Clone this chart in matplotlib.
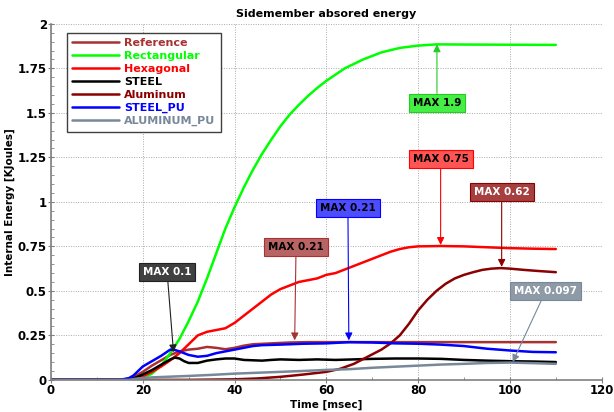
import matplotlib
matplotlib.use("Agg")
import matplotlib.pyplot as plt
from matplotlib.ticker import MultipleLocator, FuncFormatter

# ---------------- data ----------------
t_ref = [0, 15, 17, 18, 20, 22, 24, 26, 28, 30, 32, 34, 36, 38, 40, 42, 44, 48, 52, 56, 60, 70, 80, 90, 100, 110]
e_ref = [0, 0, 0.005, 0.015, 0.045, 0.08, 0.11, 0.14, 0.16, 0.17, 0.175, 0.185, 0.18, 0.172, 0.18, 0.192, 0.2, 0.205, 0.21, 0.212, 0.212, 0.212, 0.212, 0.212, 0.212, 0.212]

t_rect = [0, 16, 18, 20, 22, 24, 26, 28, 30, 32, 34, 36, 38, 40, 42, 44, 46, 48, 50, 52, 54, 56, 58, 60, 64, 68, 72, 76, 80, 84, 90, 100, 110]
e_rect = [0, 0, 0.002, 0.01, 0.035, 0.08, 0.15, 0.23, 0.33, 0.44, 0.57, 0.71, 0.85, 0.97, 1.08, 1.18, 1.27, 1.35, 1.425, 1.49, 1.545, 1.595, 1.64, 1.68, 1.75, 1.80, 1.84, 1.865, 1.878, 1.885, 1.884, 1.883, 1.882]

t_hex = [0, 16, 18, 20, 22, 24, 26, 28, 30, 32, 34, 36, 38, 40, 42, 44, 46, 48, 50, 52, 54, 56, 58, 60, 62, 64, 66, 68, 70, 72, 74, 76, 78, 80, 85, 90, 95, 100, 105, 110]
e_hex = [0, 0, 0.005, 0.02, 0.045, 0.075, 0.11, 0.15, 0.2, 0.25, 0.27, 0.28, 0.29, 0.32, 0.36, 0.4, 0.44, 0.48, 0.51, 0.53, 0.55, 0.56, 0.57, 0.59, 0.6, 0.62, 0.64, 0.66, 0.68, 0.7, 0.72, 0.735, 0.745, 0.75, 0.752, 0.75, 0.745, 0.74, 0.737, 0.735]

t_steel = [0, 16, 18, 20, 22, 24, 26, 27, 28, 29, 30, 32, 34, 36, 38, 40, 42, 44, 46, 48, 50, 54, 58, 62, 66, 70, 75, 80, 85, 90, 95, 100, 105, 110]
e_steel = [0, 0, 0.008, 0.03, 0.055, 0.085, 0.115, 0.125, 0.12, 0.105, 0.095, 0.095, 0.108, 0.115, 0.12, 0.12, 0.112, 0.11, 0.108, 0.112, 0.115, 0.112, 0.115, 0.112, 0.115, 0.118, 0.12, 0.12, 0.118, 0.112, 0.108, 0.105, 0.103, 0.1]

t_alu = [0, 20, 30, 40, 45, 50, 55, 60, 63, 66, 69, 72, 74, 76, 78, 80, 82, 84, 86, 88, 90, 92, 94, 96, 98, 100, 103, 106, 110]
e_alu = [0, 0, 0, 0.003, 0.008, 0.017, 0.03, 0.045, 0.062, 0.09, 0.13, 0.17, 0.205, 0.25, 0.315, 0.39, 0.45, 0.5, 0.54, 0.57, 0.59, 0.605, 0.618, 0.625, 0.628, 0.625, 0.618, 0.612, 0.605]

t_steel_pu = [0, 15, 17, 18, 20, 22, 24, 26, 27, 28, 30, 32, 34, 36, 38, 40, 42, 44, 46, 50, 55, 60, 65, 70, 75, 80, 85, 90, 95, 100, 105, 110]
e_steel_pu = [0, 0, 0.01, 0.025, 0.075, 0.105, 0.135, 0.17, 0.168, 0.16, 0.14, 0.13, 0.135, 0.15, 0.16, 0.17, 0.18, 0.19, 0.195, 0.198, 0.203, 0.205, 0.212, 0.21, 0.205, 0.203, 0.198, 0.19, 0.175, 0.165, 0.157, 0.155]

t_alu_pu = [0, 17, 19, 22, 26, 30, 35, 40, 45, 50, 55, 60, 65, 70, 75, 80, 85, 90, 95, 100, 105, 110]
e_alu_pu = [0, 0, 0.008, 0.014, 0.018, 0.022, 0.028, 0.035, 0.04, 0.045, 0.05, 0.056, 0.06, 0.068, 0.074, 0.08, 0.086, 0.09, 0.095, 0.097, 0.094, 0.09]

series_names = ["Reference", "Rectangular", "Hexagonal", "STEEL", "Aluminum", "STEEL_PU", "ALUMINUM_PU"]
series_colors = ["#A83232", "#00FF00", "#FF0000", "#000000", "#8B0000", "#0000FF", "#778899"]
series_t = [t_ref, t_rect, t_hex, t_steel, t_alu, t_steel_pu, t_alu_pu]
series_e = [e_ref, e_rect, e_hex, e_steel, e_alu, e_steel_pu, e_alu_pu]

x_ticks = [0, 20, 40, 60, 80, 100, 120]
y_ticks = [0, 0.25, 0.5, 0.75, 1, 1.25, 1.5, 1.75, 2]

# annotations: text, tip (x, y), box centre (x, y), face colour, text colour, edge colour
annotations = [
    ("MAX 0.1", (26.7, 0.155), (25.3, 0.607), "#404040", "white", "#202020"),
    ("MAX 0.21", (53.1, 0.222), (53.4, 0.747), "#B86464", "black", "#A83232"),
    ("MAX 0.21", (64.9, 0.222), (64.7, 0.966), "#4D4DFF", "black", "#0000FF"),
    ("MAX 0.75", (84.9, 0.758), (84.9, 1.24), "#FF5555", "black", "#FF0000"),
    ("MAX 0.62", (98.2, 0.635), (98.2, 1.056), "#A64040", "white", "#8B0000"),
    ("MAX 0.097", (100.6, 0.1), (107.8, 0.5), "#8E9AA6", "white", "#778899"),
    ("MAX 1.9", (84.1, 1.885), (84.1, 1.556), "#44EE44", "black", "#22CC22"),
]

# ---------------- plot ----------------
plt.rcParams['font.family'] = ['DejaVu Sans']
fig = plt.figure(figsize=(6.14, 4.12), dpi=100)
ax = fig.add_axes([0.083, 0.078, 0.897, 0.864])

for t, e, name, c in zip(series_t, series_e, series_names, series_colors):
    ax.plot(t, e, color=c, lw=1.8, label=name, solid_capstyle='round', solid_joinstyle='round')

ax.set_xlim(0, 120)
ax.set_ylim(0, 2)
ax.set_xticks(x_ticks)
ax.set_yticks(y_ticks)
ax.xaxis.set_minor_locator(MultipleLocator(10))
ax.yaxis.set_minor_locator(MultipleLocator(0.05))
ax.yaxis.set_major_formatter(FuncFormatter(lambda v, p: "%g" % v))
ax.grid(True, which='major', linestyle=(0, (1, 1.5)), color='#aaaaaa', lw=0.7)
for s in ['top', 'right']:
    ax.spines[s].set_visible(False)
for s in ['left', 'bottom']:
    ax.spines[s].set_color('#808080')
    ax.spines[s].set_linewidth(1.2)
ax.tick_params(axis='both', which='major', direction='inout', length=4, color='#808080',
               labelsize=8.5, pad=1)
ax.tick_params(axis='both', which='minor', direction='in', length=2, color='#808080')
for lab in ax.get_xticklabels() + ax.get_yticklabels():
    lab.set_fontweight('bold')

ax.set_title("Sidemember absored energy", fontsize=8, fontweight='bold', pad=5)
ax.set_xlabel("Time [msec]", fontsize=7.5, fontweight='bold', labelpad=2)
ax.set_ylabel("Internal Energy [KJoules]", fontsize=7.5, fontweight='bold', labelpad=2)

for text, tip, box, fc, tc, ec in annotations:
    ax.annotate(text, xy=tip, xytext=box, ha='center', va='center',
                fontsize=7.5, fontweight='bold', color=tc,
                bbox=dict(boxstyle='square,pad=0.4', fc=fc, ec=ec, lw=0.8),
                arrowprops=dict(arrowstyle='-|>', color=ec, lw=0.8, mutation_scale=11,
                                shrinkA=0, shrinkB=0),
                zorder=5)

leg = ax.legend(loc='upper left', bbox_to_anchor=(0.029, 0.975),
                prop={'weight': 'bold', 'size': 8}, labelcolor='linecolor',
                handlelength=4.2, handletextpad=0.45, labelspacing=0.26,
                frameon=True, fancybox=False, borderpad=0.5, borderaxespad=0)
leg.get_frame().set_edgecolor('#404040')
leg.get_frame().set_linewidth(1.0)
leg.get_frame().set_alpha(1)

fig.savefig("out.png", dpi=100)
